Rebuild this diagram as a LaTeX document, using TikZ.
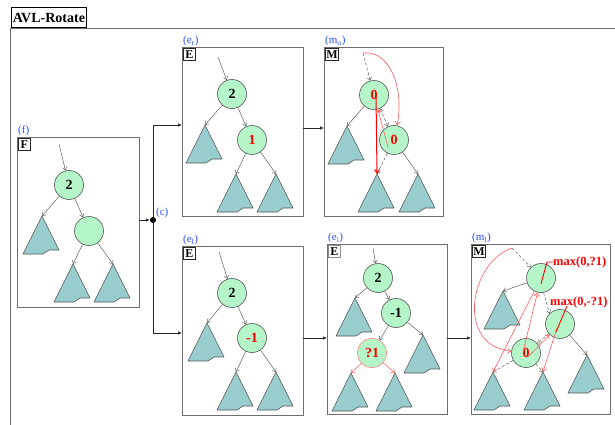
\documentclass[tikz,border=0pt]{standalone}
\usepackage{fontspec}
\setmainfont{Liberation Serif}
\usetikzlibrary{arrows.meta,calc}
\definecolor{mint}{RGB}{180,246,200}
\definecolor{tealfill}{RGB}{153,204,204}
\definecolor{ringgray}{RGB}{85,85,85}
\definecolor{edgegray}{RGB}{95,95,95}
\definecolor{panelgray}{RGB}{110,110,110}
\definecolor{capblue}{RGB}{40,80,255}
\definecolor{textred}{RGB}{255,0,0}
\definecolor{linered}{RGB}{255,90,90}
\definecolor{pinkline}{RGB}{255,130,130}
\tikzset{
  panel/.style={draw=panelgray, line width=0.9pt, inner sep=0, outer sep=0},
  tag/.style={draw=black!85, line width=0.6pt, inner sep=1pt, minimum height=12pt, minimum width=12pt,
    anchor=north west, font=\bfseries\fontsize{12}{12}\selectfont},
  paletag/.style={tag, draw=black!45},
  panelcap/.style={anchor=south west, inner sep=0, text=capblue, font=\fontsize{11}{11}\selectfont},
  bal/.style={circle, draw=ringgray, line width=0.6pt, fill=mint, minimum size=29pt, inner sep=0,
    font=\bfseries\fontsize{14}{14}\selectfont},
  redtext/.style={text=textred},
  treeedge/.style={draw=edgegray, line width=0.5pt, -{Straight Barb[length=3pt,width=4.5pt]}},
  newedge/.style={treeedge, dash pattern=on 3pt off 2pt},
  rededge/.style={draw=linered, line width=0.6pt, -{Straight Barb[length=3.5pt,width=5pt]}},
  strongred/.style={draw=red, line width=1pt, -{Straight Barb[length=3.5pt,width=5pt]}},
  leader/.style={draw=textred, line width=0.9pt},
  flow/.style={draw=black!85, line width=0.7pt, -{Latex[length=4pt,width=3.5pt]}},
  maxlabel/.style={inner sep=0, text=textred, font=\bfseries\fontsize{12.5}{12.5}\selectfont},
  subtree/.pic={
    \path[draw=ringgray, fill=tealfill, line width=0.6pt, line join=round, pic actions]
      (0,0) -- (17,34) -- (7,34) -- (1,38) -- (-19,38) -- cycle;
    \coordinate (-apex) at (0,0);
  },
}
\begin{document}
\begin{tikzpicture}[x=1pt,y=-1pt]
\useasboundingbox (0,0) rectangle (615,425);

% outer frame and title
\draw[draw=panelgray, line width=0.9pt] (10,425) -- (10,28) -- (615,28);
\node[draw=black, line width=0.8pt, anchor=south west, inner sep=1.5pt, minimum height=20pt,
  font=\bfseries\fontsize{14}{14}\selectfont] (title) at (11,28) {AVL-Rotate};

% panels
\node[panel, minimum width=122pt, minimum height=170pt] (pF)  at (78,222) {};
\node[panel, minimum width=121pt, minimum height=169pt] (pEr) at (242.5,131.5) {};
\node[panel, minimum width=119pt, minimum height=169pt] (pMr) at (383.5,131.5) {};
\node[panel, minimum width=121pt, minimum height=169pt] (pEl) at (242.5,330.5) {};
\node[panel, minimum width=120pt, minimum height=170pt] (pEm) at (387,329) {};
\node[panel, minimum width=139pt, minimum height=170pt] (pMl) at (540.5,329) {};

\foreach \p/\t/\c/\s in {pF/F/(f)/tag, pEr/E/(e\textsubscript{r})/tag, pMr/M/(m\textsubscript{o})/tag,
                         pEl/E/(e\textsubscript{l})/tag, pEm/E/(e\textsubscript{i})/paletag,
                         pMl/M/(m\textsubscript{l})/tag}{
  \node[\s] (\p-tag) at ([shift={(1,1)}]\p.north west) {\t};
  \node[panelcap] (\p-cap) at ([shift={(1,-1)}]\p.north west) {\c};
}

% junction and flow arrows
\node[circle, fill=black, inner sep=0, minimum size=6pt] (jc) at (153,220) {};
\node[panelcap, anchor=west] (jc-cap) at (156,213) {(c)};
\draw[flow] (pF.east |- jc) -- (jc);
\draw[flow] (jc.center) |- (pEr.west |- 0,125);
\draw[flow] (jc.center) |- (pEl.west |- 0,333);
\draw[flow] (pEr.east |- 0,128) -- (pMr.west |- 0,128);
\draw[flow] (pEl.east |- 0,338) -- (pEm.west |- 0,338);
\draw[flow] (pEm.east |- 0,338) -- (pMl.west |- 0,338);

% ---- F: unbalanced tree
\pic (F-a) at (42,216) {subtree};
\pic (F-b) at (73,264) {subtree};
\pic (F-d) at (113,264) {subtree};
\node[bal] (F-r) at (69,185) {2};
\node[bal] (F-c) at (89,231) {};
\coordinate (F-in) at (59,144);
\draw[treeedge] (F-in) -- (F-r);
\draw[treeedge] (F-r) -- (F-a-apex);
\draw[treeedge] (F-r) -- (F-c);
\draw[treeedge] (F-c) -- (F-b-apex);
\draw[treeedge] (F-c) -- (F-d-apex);

% ---- upper E: right child leans right
\pic (Er-a) at (205,125) {subtree};
\pic (Er-b) at (236,174) {subtree};
\pic (Er-d) at (276,174) {subtree};
\node[bal] (Er-r) at (232,94) {2};
\node[bal, redtext] (Er-c) at (252,140) {1};
\coordinate (Er-in) at (218,57);
\draw[treeedge] (Er-in) -- (Er-r);
\draw[treeedge] (Er-r) -- (Er-a-apex);
\draw[treeedge] (Er-r) -- (Er-c);
\draw[treeedge] (Er-c) -- (Er-b-apex);
\draw[treeedge] (Er-c) -- (Er-d-apex);

% ---- upper M: single rotation
\pic (Mr-a) at (347,126) {subtree};
\pic (Mr-b) at (377,174) {subtree};
\pic (Mr-d) at (418,174) {subtree};
\node[bal, redtext] (Mr-r) at (374,95) {0};
\node[bal, redtext] (Mr-c) at (394,140) {0};
\coordinate (Mr-in) at (363,53);
\draw[newedge] (Mr-in) -- (Mr-r);
\draw[treeedge] (Mr-r) -- (Mr-a-apex);
\draw[newedge, {Straight Barb[length=3pt,width=4.5pt]}-{Straight Barb[length=3pt,width=4.5pt]}] (Mr-r) -- (Mr-c);
\draw[newedge] (Mr-c) -- (Mr-b-apex);
\draw[treeedge] (Mr-c) -- (Mr-d-apex);
\draw[rededge] (Mr-in) .. controls (392,50) and (404,92) .. (Mr-c);
\draw[strongred] ($(Mr-r.center)+(2,0)$) -- (Mr-b-apex);
\draw[rededge] ($(Mr-c.center)+(-6,7)$) -- (Mr-r);

% ---- lower E: right child leans left
\pic (El-a) at (207,323) {subtree};
\pic (El-b) at (236,372) {subtree};
\pic (El-d) at (276,372) {subtree};
\node[bal] (El-r) at (232,293) {2};
\node[bal, redtext] (El-c) at (252,338) {-1};
\coordinate (El-in) at (219,252);
\draw[treeedge] (El-in) -- (El-r);
\draw[treeedge] (El-r) -- (El-a-apex);
\draw[treeedge] (El-r) -- (El-c);
\draw[treeedge] (El-c) -- (El-b-apex);
\draw[treeedge] (El-c) -- (El-d-apex);

% ---- middle E: inner grandchild expanded
\pic (Em-a) at (355,298) {subtree};
\pic (Em-d) at (423,335) {subtree};
\pic[draw=textred, line width=0.9pt] (Em-b) at (351,373) {subtree};
\pic[draw=pinkline] (Em-e) at (395,373) {subtree};
\node[bal] (Em-r) at (378,278) {2};
\node[bal] (Em-c) at (396,313) {-1};
\node[bal, draw=pinkline, redtext] (Em-q) at (372,353) {?1};
\coordinate (Em-in) at (373,248);
\draw[treeedge] (Em-in) -- (Em-r);
\draw[treeedge] (Em-r) -- (Em-a-apex);
\draw[treeedge] (Em-r) -- (Em-c);
\draw[treeedge] (Em-c) -- (Em-q);
\draw[treeedge] (Em-c) -- (Em-d-apex);
\draw[rededge, line width=0.5pt] (Em-q) -- (Em-b-apex);
\draw[rededge, line width=0.5pt] (Em-q) -- (Em-e-apex);

% ---- lower M: double rotation
\pic (Ml-a) at (503,291) {subtree};
\pic (Ml-d) at (587,355) {subtree};
\pic (Ml-b) at (493,372) {subtree};
\pic (Ml-e) at (543,372) {subtree};
\node[bal] (Ml-t) at (541,278) {};
\node[bal] (Ml-rr) at (560,324) {};
\node[bal, redtext] (Ml-l) at (526,353) {0};
\coordinate (Ml-in) at (512,248);
\draw[newedge] (Ml-in) -- (Ml-t);
\draw[treeedge] (Ml-t) -- (Ml-a-apex);
\draw[newedge] (Ml-t.-80) -- (Ml-rr.135);
\draw[treeedge] (Ml-rr) -- (Ml-d-apex);
\draw[newedge] (Ml-rr) -- (Ml-l);
\draw[newedge] (Ml-l) -- (Ml-b-apex);
\draw[newedge] (Ml-l) -- (Ml-e-apex);
\draw[rededge] (Ml-in) .. controls (470,262) and (455,345) .. (Ml-l);
\draw[rededge] ($(Ml-l.center)+(-3,-1)$) -- (Ml-t);
\draw[rededge] (Ml-t) -- (Ml-b-apex);
\draw[rededge] ($(Ml-l.center)+(2,4)$) -- (Ml-rr);
\draw[rededge] ($(Ml-rr.center)+(-3,4)$) -- (Ml-e-apex);
\node[maxlabel, anchor=base west] (mxT) at (553,265) {max(0,?1)};
\node[maxlabel, anchor=base west] (mxR) at (550,305) {max(0,-?1)};
\draw[leader] ($(Ml-t.center)+(0,6)$) -- ++(6,-22) -- (mxT.west);
\draw[leader] ($(Ml-rr.center)+(-4,8)$) -- ($(mxR.base west)+(17,1)$);
\end{tikzpicture}
\end{document}
